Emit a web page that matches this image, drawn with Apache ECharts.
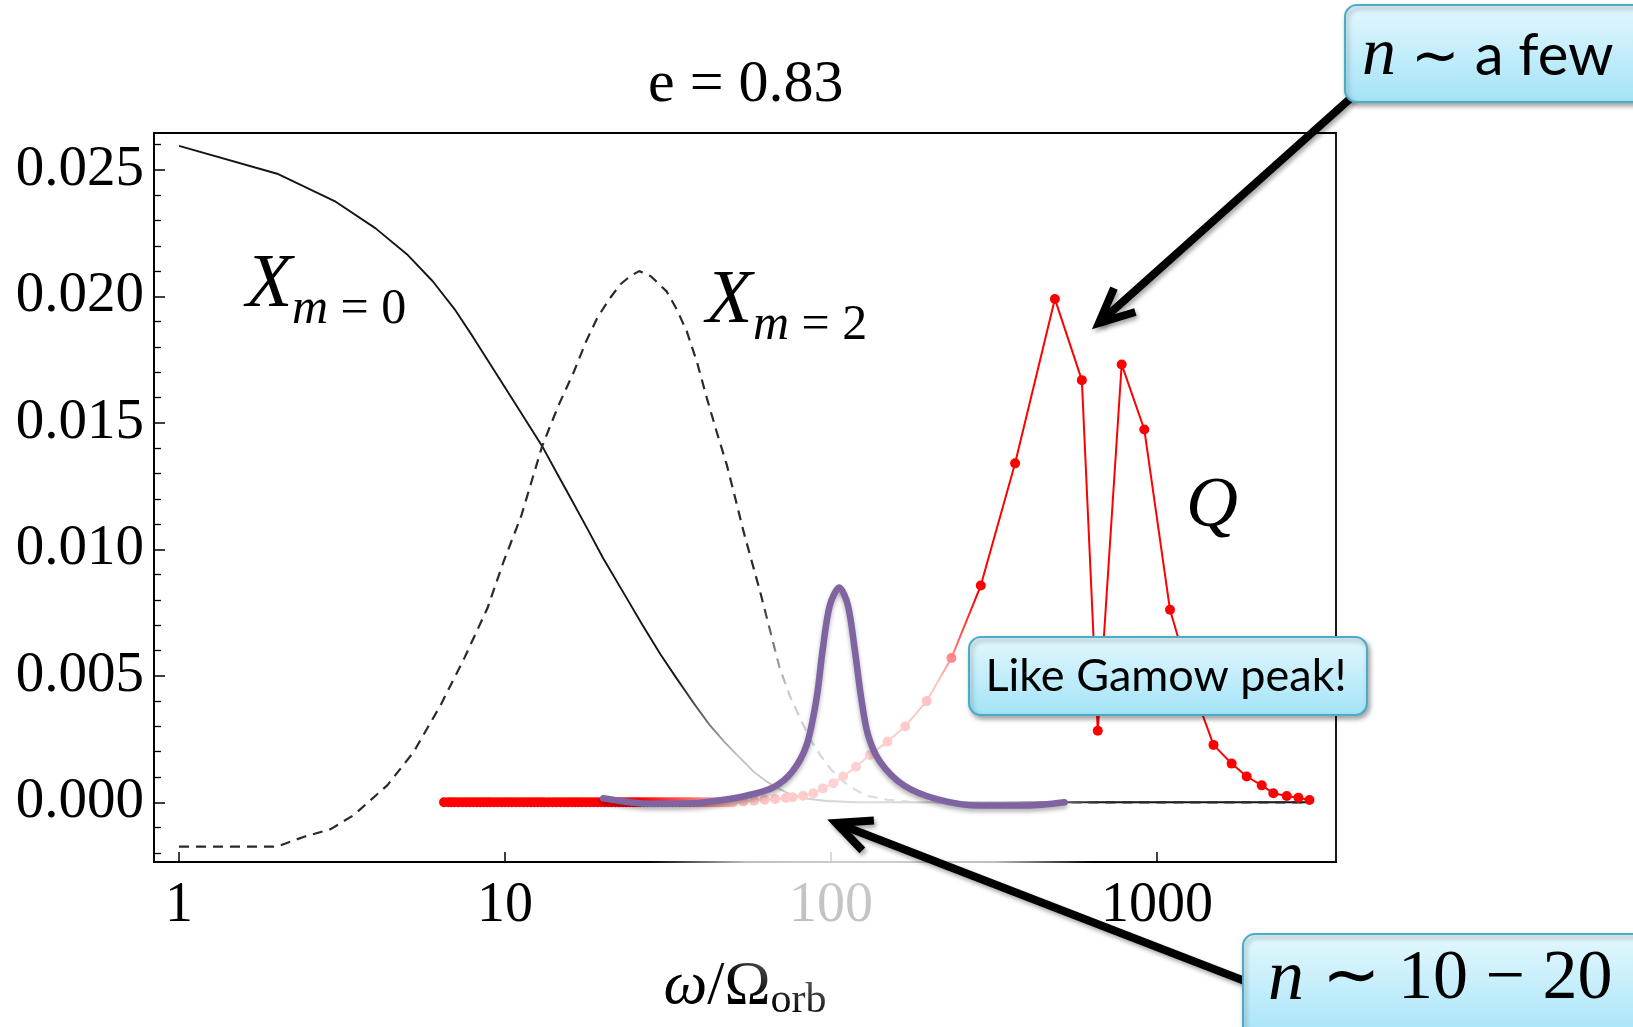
<!DOCTYPE html>
<html>
<head>
<meta charset="utf-8">
<title>e = 0.83</title>
<script src="https://cdn.jsdelivr.net/npm/echarts@6/dist/echarts.min.js"></script>
<style>
html, body { margin: 0; padding: 0; background: #fff; }
#main { width: 1633px; height: 1027px; }
</style>
</head>
<body>
<div id="main"></div>
<script>
// values, x = ω/Ω_orb (log axis)
var xm0Omega = [1, 2, 3, 4, 5, 6, 7, 8, 9, 10, 11.5, 13, 14.5, 16, 18, 20, 23.3, 26.4, 30, 33.6, 38, 42.4, 47, 52.7, 58, 63.5, 70, 76, 85, 97, 120, 200, 500, 1000, 2000, 2935];
var xm0Val = [0.02595, 0.02485, 0.02377, 0.0227, 0.02167, 0.0206, 0.0195, 0.01837, 0.01733, 0.0164, 0.01516, 0.01408, 0.01296, 0.01196, 0.01075, 0.00965, 0.0082, 0.00701, 0.00584, 0.0049, 0.0039, 0.00306, 0.0024, 0.00174, 0.0012, 0.00082, 0.0005, 0.00029, 0.00014, 0.00005, 0, 0, 0, 0, 0, 0];

var xm2Omega = [1, 2, 2.42, 2.92, 3.44, 4.36, 5.25, 6.35, 7.5, 8.83, 9.9, 11.2, 13, 14.6, 16.3, 17.7, 19.2, 20.9, 22.6, 24.2, 25.8, 28, 31.3, 33.6, 36.1, 38.8, 41.6, 44.7, 47.9, 50.9, 53.9, 57.2, 60.6, 65, 69.6, 74.8, 80.4, 86.3, 92.6, 100, 109, 118.6, 129, 149, 180, 300, 1000, 2935];
var xm2Val = [-0.00175, -0.00175, -0.00136, -0.00106, -0.0005, 0.00068, 0.002, 0.00385, 0.0057, 0.00767, 0.00952, 0.0113, 0.01408, 0.0157, 0.01705, 0.0182, 0.01916, 0.0199, 0.02048, 0.0208, 0.021, 0.0208, 0.0202, 0.0195, 0.01862, 0.0174, 0.01598, 0.0146, 0.01334, 0.0120, 0.01071, 0.0095, 0.00833, 0.0068, 0.0053, 0.0042, 0.00332, 0.0025, 0.00187, 0.0013, 0.00082, 0.0005, 0.00026, 0.0001, 0, 0, 0, 0];

// Q: a dense run of points near zero, then the two-humped peak
var qOmega = [6.5, 6.7, 6.85, 7.0, 7.2, 7.4, 7.6, 7.8, 8.0, 8.2, 8.4, 8.6, 8.8, 9.0, 9.25, 9.5, 9.75, 10, 10.25, 10.5, 10.8, 11.1, 11.4, 11.7, 12, 12.3, 12.6, 12.9, 13.2, 13.6, 14, 14.4, 14.8, 15.2, 15.6, 16, 16.4, 16.8, 17.2, 17.7, 18.2, 18.7, 19.2, 19.7, 20.2, 20.7, 21.2, 21.8, 22.4, 23, 23.6, 24.2, 24.8, 25.4, 26, 26.7, 27.4, 28.1, 28.8, 29.5, 30.3, 31.1, 31.9, 32.7, 33.5, 34.3, 35.2, 36.1, 37, 38, 39, 40, 41, 42, 43.1, 44.2, 45.3, 46.4, 47.6, 48.8, 50, 53.9, 58.1, 62.6, 67.4, 72.6, 76.3, 82.1, 88.2, 94.4, 101.7, 109, 119.4, 131.5, 149, 168.8, 196.5, 234, 288, 367, 486, 588, 658, 779, 914, 1096, 1290, 1490, 1694, 1884, 2095, 2274, 2500, 2715, 2935];
var qVal = [0, 0, 0, 0, 0, 0, 0, 0, 0, 0, 0, 0, 0, 0, 0, 0, 0, 0, 0, 0, 0, 0, 0, 0, 0, 0, 0, 0, 0, 0, 0, 0, 0, 0, 0, 0, 0, 0, 0, 0, 0, 0, 0, 0, 0, 0, 0, 0, 0, 0, 0, 0, 0, 0, 0, 0, 0, 0, 0, 0, 0, 0, 0, 0, 0, 0, 0, 0, 0, 0, 0, 0, 0, 0, 0, 0, 0, 0, 0, 0, 0, 0.00003, 0.00006, 0.0001, 0.00013, 0.00017, 0.0002, 0.00026, 0.00036, 0.00055, 0.00075, 0.00102, 0.00141, 0.00187, 0.0024, 0.003, 0.004, 0.0057, 0.00857, 0.0134, 0.0199, 0.01669, 0.00283, 0.01731, 0.01474, 0.00761, 0.0045, 0.00227, 0.00153, 0.00102, 0.00067, 0.00036, 0.00025, 0.00018, 0.00009];

// hand drawn "Gamow peak" curve
var gamowOmega = [20, 28, 37.7, 47, 55, 66.3, 76, 84.2, 90.3, 94.4, 99.2, 106, 112.6, 118.1, 123.8, 129.9, 141.3, 166.9, 211, 286, 399, 520];
var gamowVal = [0.00016, -0.00006, -0.00004, 0.0001, 0.00026, 0.00058, 0.00121, 0.00227, 0.00411, 0.00609, 0.0078, 0.00849, 0.0078, 0.00609, 0.00411, 0.00266, 0.00161, 0.00068, 0.00013, -0.00013, -0.00013, 0];

function pairs(xs, ys) {
    var out = [];
    for (var i = 0; i < xs.length; i++) out.push([xs[i], ys[i]]);
    return out;
}

var SERIF = 'Liberation Serif';

// arrow with an open head, in pixels
function arrow(x1, y1, x2, y2) {
    var dx = x1 - x2, dy = y1 - y2;
    var a = Math.atan2(dy, dx), h = 38, t = 25 * Math.PI / 180;
    var shadow = { shadowColor: 'rgba(0,0,0,0.35)', shadowBlur: 4, shadowOffsetX: 2, shadowOffsetY: 3 };
    return [
        { type: 'line', z: 20, silent: true,
          shape: { x1: x1, y1: y1, x2: x2, y2: y2 },
          style: Object.assign({ stroke: '#000', lineWidth: 8 }, shadow) },
        { type: 'polyline', z: 20, silent: true,
          shape: { points: [[x2 + h * Math.cos(a - t), y2 + h * Math.sin(a - t)], [x2, y2], [x2 + h * Math.cos(a + t), y2 + h * Math.sin(a + t)]] },
          style: Object.assign({ stroke: '#000', fill: null, lineWidth: 8, lineJoin: 'miter' }, shadow) }
    ];
}

function callout(x, y, w, h) {
    return { type: 'rect', z: 30, silent: true,
        shape: { x: x, y: y, width: w, height: h, r: 12 },
        style: {
            fill: { type: 'linear', x: 0, y: 0, x2: 0, y2: 1,
                colorStops: [{ offset: 0, color: '#e4f8fe' }, { offset: 1, color: '#a3e3f7' }] },
            stroke: '#4bacc6', lineWidth: 2,
            shadowColor: 'rgba(0,0,0,0.35)', shadowBlur: 5, shadowOffsetX: 2, shadowOffsetY: 3
        } };
}

var myChart = echarts.init(document.getElementById('main'));

var graphics = [];
// white haze over the middle of the plot, as on the slide
graphics.push({ type: 'circle', z: 3, silent: true,
    shape: { cx: 870, cy: 800, r: 230 },
    style: { fill: { type: 'radial', x: 0.5, y: 0.5, r: 0.5,
        colorStops: [{ offset: 0, color: 'rgba(255,255,255,0.85)' },
                     { offset: 0.6, color: 'rgba(255,255,255,0.75)' },
                     { offset: 1, color: 'rgba(255,255,255,0)' }] } } });

// curve labels
graphics.push({ type: 'text', z: 10, silent: true, x: 246, y: 286,
    style: { text: 'X', font: 'italic 76px "' + SERIF + '"', fill: '#000', verticalAlign: 'middle' } });
graphics.push({ type: 'text', z: 10, silent: true, x: 292, y: 310,
    style: { text: '{m|m} = 0', font: '50px "' + SERIF + '"', fill: '#000', verticalAlign: 'middle',
        rich: { m: { fontStyle: 'italic', fontFamily: SERIF, fontSize: 50 } } } });
graphics.push({ type: 'text', z: 10, silent: true, x: 706, y: 302,
    style: { text: 'X', font: 'italic 76px "' + SERIF + '"', fill: '#000', verticalAlign: 'middle' } });
graphics.push({ type: 'text', z: 10, silent: true, x: 753, y: 326,
    style: { text: '{m|m} = 2', font: '50px "' + SERIF + '"', fill: '#000', verticalAlign: 'middle',
        rich: { m: { fontStyle: 'italic', fontFamily: SERIF, fontSize: 50 } } } });
graphics.push({ type: 'text', z: 10, silent: true, x: 1186, y: 507,
    style: { text: 'Q', font: 'italic 72px "' + SERIF + '"', fill: '#000', verticalAlign: 'middle' } });

// arrows and callouts
graphics = graphics.concat(arrow(1352, 97, 1099, 323));
graphics = graphics.concat(arrow(1250, 983, 836, 823));
graphics.push(callout(1345, 5, 310, 97));
graphics.push({ type: 'text', z: 31, silent: true, x: 1362, y: 56,
    style: { text: '{n|n} ∼ a few', font: '58px Lato', fill: '#000', verticalAlign: 'middle',
        rich: { n: { fontStyle: 'italic', fontFamily: SERIF, fontSize: 68 } } } });
graphics.push(callout(969, 637, 398, 78));
graphics.push({ type: 'text', z: 31, silent: true, x: 1166, y: 676,
    style: { text: 'Like Gamow peak!', font: '45px Lato', fill: '#000', align: 'center', verticalAlign: 'middle' } });
graphics.push(callout(1243, 934, 410, 110));
graphics.push({ type: 'text', z: 31, silent: true, x: 1268, y: 980,
    style: { text: '{n|n} ∼ 10 − 20', font: '70px "' + SERIF + '"', fill: '#000', verticalAlign: 'middle',
        rich: { n: { fontStyle: 'italic', fontFamily: SERIF, fontSize: 72 } } } });

option = {
    animation: false,
    backgroundColor: '#fff',
    title: {
        text: 'e = 0.83',
        left: 643, top: 50,
        textStyle: { fontFamily: SERIF, fontSize: 60, fontWeight: 'normal', color: '#000' }
    },
    grid: {
        left: 154, right: 297, top: 133, bottom: 164,
        show: true, borderColor: '#000', borderWidth: 1.8, backgroundColor: 'transparent'
    },
    xAxis: {
        type: 'log', logBase: 10, min: 0.838, max: 3540,
        axisLine: { show: true, onZero: false, lineStyle: { color: '#000', width: 1.8 } },
        axisTick: { show: true, inside: true, length: 10, lineStyle: { color: '#000', width: 1.5 } },
        splitLine: { show: false },
        axisLabel: {
            showMinLabel: false, showMaxLabel: false, margin: 16,
            color: '#000', fontFamily: SERIF, fontSize: 56,
            formatter: function (v) { return String(Math.round(v)); }
        },
        name: '{w|ω}/Ω{s|orb}',
        nameLocation: 'middle', nameGap: 90,
        nameTextStyle: {
            color: '#000', fontFamily: SERIF, fontSize: 62,
            rich: {
                w: { fontFamily: SERIF, fontSize: 62, fontStyle: 'italic' },
                s: { fontFamily: SERIF, fontSize: 42, padding: [28, 0, 0, 0] }
            }
        }
    },
    yAxis: {
        type: 'value', min: -0.00236, max: 0.02646,
        axisLine: { show: true, onZero: false, lineStyle: { color: '#000', width: 1.8 } },
        axisTick: { show: true, inside: true, length: 11, lineStyle: { color: '#000', width: 1.5 } },
        minorTick: { show: true, splitNumber: 5, length: 7, lineStyle: { color: '#000', width: 1.3 } },
        splitLine: { show: false },
        axisLabel: {
            showMinLabel: false, showMaxLabel: false, margin: 10,
            color: '#000', fontFamily: SERIF, fontSize: 57,
            formatter: function (v) { return v.toFixed(3); }
        }
    },
    series: [
        {
            name: 'X m=0', type: 'line', z: 2, showSymbol: false,
            data: pairs(xm0Omega, xm0Val),
            lineStyle: { color: '#151515', width: 1.9 }
        },
        {
            name: 'X m=2', type: 'line', z: 2, showSymbol: false,
            data: pairs(xm2Omega, xm2Val),
            lineStyle: { color: '#2a2a2a', width: 2.2, type: [10, 7] }
        },
        {
            name: 'Q', type: 'line', z: 2, symbol: 'circle', symbolSize: 10, showAllSymbol: true,
            data: pairs(qOmega, qVal),
            itemStyle: { color: '#ff0000' },
            lineStyle: { color: '#ff0000', width: 2 }
        },
        {
            name: 'Gamow', type: 'line', z: 5, showSymbol: false, smooth: 0.3,
            data: pairs(gamowOmega, gamowVal),
            lineStyle: { color: '#8064a2', width: 6.5, cap: 'round',
                shadowColor: 'rgba(0,0,0,0.3)', shadowBlur: 4, shadowOffsetY: 3 }
        }
    ],
    graphic: graphics
};

myChart.setOption(option);
</script>
</body>
</html>
